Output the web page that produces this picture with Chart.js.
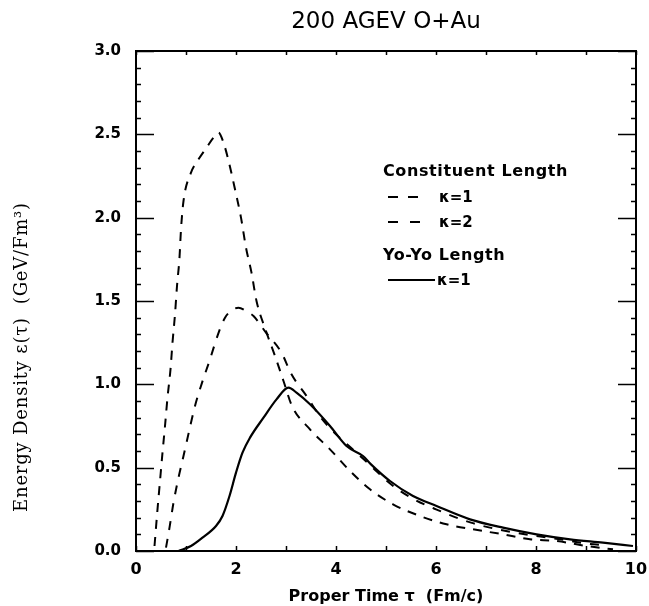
<!DOCTYPE html>
<html>
<head>
<meta charset="utf-8">
<script src="https://cdn.jsdelivr.net/npm/chart.js@4"></script>
<style>
html,body{margin:0;padding:0;background:#fff;}
#wrap{width:649px;height:606px;}
</style>
</head>
<body>
<div id="wrap"><canvas id="c" width="649" height="606"></canvas></div>
<script>
// ---- data ----
const titleText = '200 AGEV O+Au';
const xTitle = 'Proper Time τ  (Fm/c)';
const yTitle = 'Energy Density ε(τ)  (GeV/Fm³)';
const xTicks = [0, 2, 4, 6, 8, 10];
const yTicks = [0, 0.5, 1.0, 1.5, 2.0, 2.5, 3.0];

// Constituent length, kappa = 1
const tauK1 = [0.37, 0.43, 0.48, 0.53, 0.58, 0.63, 0.69, 0.73, 0.78, 0.82, 0.87, 0.90, 0.95, 1.10, 1.25, 1.41, 1.55, 1.65, 1.75, 1.86, 1.98, 2.10, 2.20, 2.31, 2.41, 2.60, 2.78, 2.95, 3.12, 3.48, 3.88, 4.28, 4.68, 5.14, 5.68, 6.21, 6.74, 7.34, 7.88, 8.41, 9.01, 9.54];
const epsK1 = [0.03, 0.25, 0.42, 0.59, 0.75, 0.92, 1.09, 1.25, 1.42, 1.59, 1.76, 1.93, 2.10, 2.27, 2.35, 2.42, 2.48, 2.51, 2.45, 2.33, 2.17, 2.00, 1.82, 1.67, 1.50, 1.32, 1.17, 1.02, 0.87, 0.73, 0.61, 0.48, 0.37, 0.28, 0.21, 0.16, 0.13, 0.10, 0.07, 0.06, 0.03, 0.01];

// Constituent length, kappa = 2
const tauK2 = [0.60, 0.67, 0.75, 0.85, 0.95, 1.07, 1.18, 1.31, 1.48, 1.64, 1.78, 1.90, 2.05, 2.20, 2.35, 2.60, 2.91, 3.11, 3.41, 3.70, 4.00, 4.30, 4.70, 5.10, 5.50, 6.00, 6.70, 7.40, 8.00, 8.50, 9.00, 9.40];
const epsK2 = [0.02, 0.14, 0.29, 0.44, 0.57, 0.73, 0.87, 1.00, 1.15, 1.30, 1.40, 1.44, 1.46, 1.44, 1.41, 1.31, 1.19, 1.06, 0.93, 0.80, 0.70, 0.62, 0.51, 0.40, 0.32, 0.25, 0.17, 0.12, 0.09, 0.07, 0.045, 0.035];

// Yo-Yo length, kappa = 1
const tauYY = [0.85, 1.10, 1.33, 1.60, 1.73, 1.87, 2.00, 2.13, 2.28, 2.55, 2.81, 3.05, 3.21, 3.48, 3.88, 4.21, 4.54, 4.70, 5.08, 5.54, 6.01, 6.68, 7.34, 8.01, 8.68, 9.34, 9.94];
const epsYY = [0.00, 0.03, 0.08, 0.15, 0.21, 0.33, 0.47, 0.59, 0.68, 0.80, 0.91, 0.98, 0.95, 0.88, 0.75, 0.63, 0.57, 0.52, 0.42, 0.33, 0.27, 0.19, 0.14, 0.10, 0.07, 0.05, 0.03];

const legendHead1 = 'Constituent Length';
const legendHead2 = 'Yo-Yo Length';
const seriesLabels = ['κ=1', 'κ=2', 'κ=1'];

// ---- chart ----
const pts = (xs, ys) => xs.map((x, i) => ({x: x, y: ys[i]}));
const DASH1 = [9, 8];
const DASH2 = [9, 9];

const framePlugin = {
  id: 'frame',
  afterDraw(chart) {
    const {ctx, chartArea: a, scales: {x, y}} = chart;
    ctx.save();
    ctx.strokeStyle = '#000';
    ctx.lineWidth = 2;
    ctx.strokeRect(a.left, a.top, a.right - a.left, a.bottom - a.top);
    ctx.lineWidth = 1.5;
    ctx.beginPath();
    // y ticks (left & right, inward)
    for (let i = 0; i <= 30; i++) {
      const v = i / 10;
      const py = Math.round(y.getPixelForValue(v)) + 0.5;
      const len = (i % 5 === 0) ? 18 : 5;
      ctx.moveTo(a.left, py); ctx.lineTo(a.left + len, py);
      ctx.moveTo(a.right, py); ctx.lineTo(a.right - len, py);
    }
    // x ticks (bottom & top, inward)
    for (let i = 0; i <= 10; i++) {
      const px = Math.round(x.getPixelForValue(i)) + 0.5;
      ctx.moveTo(px, a.bottom); ctx.lineTo(px, a.bottom - 5);
      ctx.moveTo(px, a.top); ctx.lineTo(px, a.top + 4);
    }
    ctx.stroke();

    // y axis title
    ctx.fillStyle = '#000';
    ctx.save();
    ctx.translate(22, (a.top + a.bottom) / 2 + 56);
    ctx.rotate(-Math.PI / 2);
    ctx.font = '18px "DejaVu Serif"';
    try { ctx.letterSpacing = '0.8px'; } catch (e) {}
    ctx.textAlign = 'center';
    ctx.textBaseline = 'middle';
    ctx.fillText(yTitle, 0, 0);
    ctx.restore();

    // legend
    const lx = a.left + 247;
    ctx.textAlign = 'left';
    ctx.textBaseline = 'middle';
    ctx.font = 'bold 16px "DejaVu Sans"';
    try { ctx.letterSpacing = '0.6px'; } catch (e) {}
    ctx.fillText(legendHead1, lx, 172);
    ctx.fillText(legendHead2, lx, 256);
    try { ctx.letterSpacing = '0px'; } catch (e) {}
    ctx.font = 'bold 15px "DejaVu Sans"';
    ctx.lineWidth = 2;
    ctx.setLineDash([10, 10]);
    ctx.beginPath(); ctx.moveTo(lx + 5, 197); ctx.lineTo(lx + 35, 197); ctx.stroke();
    ctx.fillText(seriesLabels[0], lx + 56, 198);
    ctx.setLineDash([10, 12]);
    ctx.beginPath(); ctx.moveTo(lx + 5, 222); ctx.lineTo(lx + 37, 222); ctx.stroke();
    ctx.fillText(seriesLabels[1], lx + 56, 223);
    ctx.setLineDash([]);
    ctx.beginPath(); ctx.moveTo(lx + 5, 280); ctx.lineTo(lx + 52, 280); ctx.stroke();
    ctx.fillText(seriesLabels[2], lx + 54, 281);
    ctx.restore();
  }
};

new Chart(document.getElementById('c'), {
  type: 'line',
  data: {
    datasets: [
      {label: 'Constituent Length κ=1', data: pts(tauK1, epsK1), borderColor: '#000', borderWidth: 2, borderDash: DASH1, pointRadius: 0, cubicInterpolationMode: 'monotone', fill: false},
      {label: 'Constituent Length κ=2', data: pts(tauK2, epsK2), borderColor: '#000', borderWidth: 2, borderDash: DASH2, pointRadius: 0, cubicInterpolationMode: 'monotone', fill: false},
      {label: 'Yo-Yo Length κ=1', data: pts(tauYY, epsYY), borderColor: '#000', borderWidth: 2.2, pointRadius: 0, cubicInterpolationMode: 'monotone', fill: false}
    ]
  },
  options: {
    responsive: false,
    animation: false,
    devicePixelRatio: 1,
    layout: {padding: {left: 0, right: 13, top: 0, bottom: 0}},
    plugins: {
      legend: {display: false},
      tooltip: {enabled: false},
      title: {
        display: true, text: titleText, color: '#000', fullSize: false,
        font: {family: '"DejaVu Sans"', size: 23, weight: 'normal'},
        padding: {top: 8, bottom: 15.4}
      }
    },
    scales: {
      x: {
        type: 'linear', min: 0, max: 10,
        afterBuildTicks: s => { s.ticks = xTicks.map(v => ({value: v})); },
        afterFit: s => { s.height = 55; s.paddingLeft = 0; s.paddingRight = 0; },
        grid: {display: false, drawTicks: false},
        border: {display: false},
        ticks: {color: '#000', padding: 9, font: {family: '"DejaVu Sans"', size: 16, weight: 'bold'}},
        title: {display: true, text: xTitle, color: '#000', padding: {top: 0, bottom: 0}, font: {family: '"DejaVu Sans"', size: 16, weight: 'bold'}}
      },
      y: {
        type: 'linear', min: 0, max: 3,
        afterBuildTicks: s => { s.ticks = yTicks.map(v => ({value: v})); },
        afterFit: s => { s.width = 136; s.paddingTop = 0; s.paddingBottom = 0; },
        grid: {display: false, drawTicks: false},
        border: {display: false},
        ticks: {color: '#000', padding: 15, font: {family: '"DejaVu Sans"', size: 15, weight: 'bold'}, callback: v => Number(v).toFixed(1)}
      }
    }
  },
  plugins: [framePlugin]
});
</script>
</body>
</html>
